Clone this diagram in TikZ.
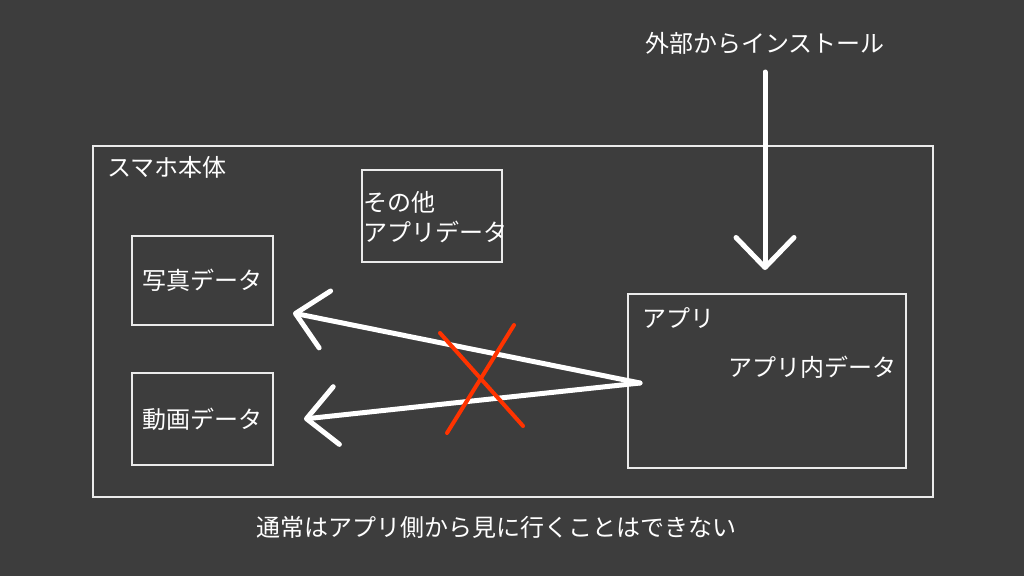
\documentclass[tikz,border=0pt]{standalone}
\usepackage{fontspec}
\setmainfont{Noto Sans CJK JP}
\usetikzlibrary{arrows.meta, positioning}

\definecolor{bgcol}{HTML}{3D3D3D}
\definecolor{crosscol}{HTML}{FF3300}

\tikzset{
  box/.style = {draw = white!92!black, line width = 2pt, inner sep = 0pt},
  txt/.style = {text = white, font = \fontsize{24}{30}\selectfont, inner sep = 0pt},
  bigarrow/.style = {white, line width = 5pt, line cap = round, -{Straight Barb[length = 30pt, width = 58pt, round]}}
}

\begin{document}
\begin{tikzpicture}[x = 1pt, y = -1pt]

\fill[bgcol] (0,0) rectangle (1024,576);
\useasboundingbox (0,0) rectangle (1024,576);

\node[box, minimum width = 840pt, minimum height = 351pt, anchor = north west] (phone) at (92,145) {};
\node[txt, anchor = west] (phoneLabel) at (107,167) {スマホ本体};

\node[box, minimum width = 140pt, minimum height = 92pt, anchor = north west] (other) at (361,169) {};
\node[txt, align = left, anchor = west] (otherLabel) at (363,217) {その他\\アプリデータ};

\node[box, txt, minimum width = 141pt, minimum height = 89pt] (photo) at (202.5,280.5) {写真データ};
\node[box, txt, minimum width = 141pt, minimum height = 92pt] (video) at (202.5,419) {動画データ};

\node[box, minimum width = 278pt, minimum height = 174pt, anchor = north west] (app) at (627,293) {};
\node[txt, anchor = west] (appLabel) at (642,318) {アプリ};
\node[txt, anchor = west] (appData) at (728,367) {アプリ内データ};

\node[txt] (install) at (765,43) {外部からインストール};
\node[txt] (note) at (496,527) {通常はアプリ側から見に行くことはできない};

\coordinate (src) at (640,383);
\coordinate (photoTip) at (293,313);
\coordinate (videoTip) at (304,419);
\coordinate (installTip) at (765,270);

\draw[bigarrow] (install.south |- 0,72) -- (installTip);
\draw[bigarrow] (src) -- (photoTip);
\draw[bigarrow] (src) -- (videoTip);

\draw[crosscol, line width = 4pt, line cap = round] (440,333) -- (523,426);
\draw[crosscol, line width = 4pt, line cap = round] (514,325) -- (447,433);

\end{tikzpicture}
\end{document}
